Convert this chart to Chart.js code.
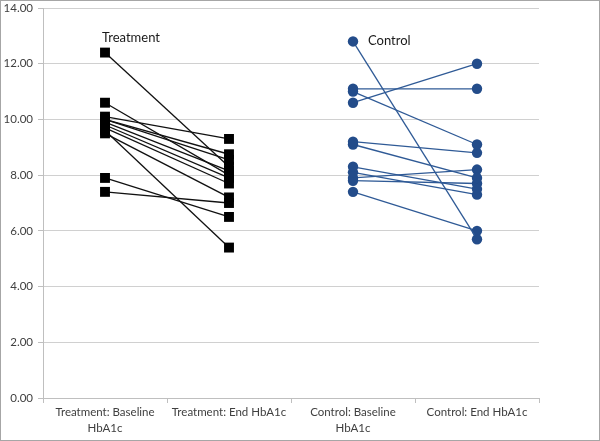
<!DOCTYPE html>
<html>
<head>
<meta charset="utf-8">
<script src="https://cdn.jsdelivr.net/npm/chart.js@4/dist/chart.umd.min.js"></script>
<style>
  html, body { margin: 0; padding: 0; background: #fff; }
  #wrap { width: 600px; height: 441px; box-sizing: border-box; border: 1px solid #a6a6a6; position: relative; }
  canvas { display: block; }
</style>
</head>
<body>
<div id="wrap"><canvas id="c" width="598" height="439"></canvas></div>
<script>
const categories = [["Treatment: Baseline", "HbA1c"], "Treatment: End HbA1c", ["Control: Baseline", "HbA1c"], "Control: End HbA1c"];
const treatmentBaseline = [12.4, 10.6, 10.1, 10.0, 10.0, 9.9, 9.8, 9.7, 9.6, 9.5, 7.9, 7.4];
const treatmentEnd      = [8.3, 8.0, 9.3, 8.75, 8.55, 8.15, 7.9, 7.7, 5.4, 7.2, 6.5, 7.0];
const controlBaseline   = [12.8, 11.1, 11.0, 10.6, 9.2, 9.1, 8.3, 8.1, 7.9, 7.8, 7.4];
const controlEnd        = [5.7, 11.1, 9.1, 12.0, 8.8, 7.9, 7.5, 7.3, 8.2, 7.7, 6.0];
const groupLabels = ["Treatment", "Control"];
const yMin = 0, yMax = 14, yStep = 2;

const datasets = [];
treatmentBaseline.forEach((b, i) => {
  datasets.push({
    data: [b, treatmentEnd[i], null, null],
    borderColor: '#111111', backgroundColor: '#000000',
    borderWidth: 1.3, pointStyle: 'rect', pointRadius: 7, pointBorderWidth: 0,
    pointBackgroundColor: '#000000', spanGaps: false, tension: 0
  });
});
controlBaseline.forEach((b, i) => {
  datasets.push({
    data: [null, null, b, controlEnd[i]],
    borderColor: '#2f5a96', backgroundColor: '#234c8a',
    borderWidth: 1.3, pointStyle: 'circle', pointRadius: 5.2, pointBorderWidth: 0,
    pointBackgroundColor: '#234c8a', spanGaps: false, tension: 0
  });
});

const groupText = {
  id: 'groupText',
  afterDatasetsDraw(chart) {
    const { ctx, scales: { x, y } } = chart;
    ctx.save();
    ctx.font = '13px Lato, "Open Sans", sans-serif';
    ctx.fillStyle = '#1a1a1a';
    ctx.textBaseline = 'middle';
    ctx.textAlign = 'left';
    ctx.fillText(groupLabels[0], x.getPixelForValue(0) - 3, y.getPixelForValue(12.92));
    ctx.fillText(groupLabels[1], x.getPixelForValue(2) + 15, y.getPixelForValue(12.84));
    ctx.restore();
  }
};

new Chart(document.getElementById('c'), {
  type: 'line',
  data: { labels: categories, datasets },
  options: {
    responsive: false,
    animation: false,
    layout: { padding: { left: 0, right: 60, top: 6, bottom: 0 } },
    plugins: { legend: { display: false }, tooltip: { enabled: false } },
    scales: {
      x: {
        offset: true,
        grid: { offset: true, drawOnChartArea: false, drawTicks: true, tickLength: 5, color: '#bfbfbf' },
        border: { color: '#bfbfbf', width: 1 },
        ticks: { color: '#404040', font: { family: 'Lato, "Open Sans", sans-serif', size: 11.5, lineHeight: 1.38 }, padding: 1, maxRotation: 0, autoSkip: false },
        afterFit: s => { s.height = 42; }
      },
      y: {
        min: yMin, max: yMax,
        ticks: { stepSize: yStep, color: '#404040', padding: 5, font: { family: 'Lato, "Open Sans", sans-serif', size: 11.5 }, callback: v => Number(v).toFixed(2) },
        grid: { color: '#d0d0d0', lineWidth: 1, tickLength: 5, tickColor: '#bfbfbf' },
        border: { color: '#bfbfbf', width: 1 },
        afterFit: s => { s.width = 42; s.paddingTop = 0; s.paddingBottom = 0; }
      }
    }
  },
  plugins: [groupText]
});
</script>
</body>
</html>
